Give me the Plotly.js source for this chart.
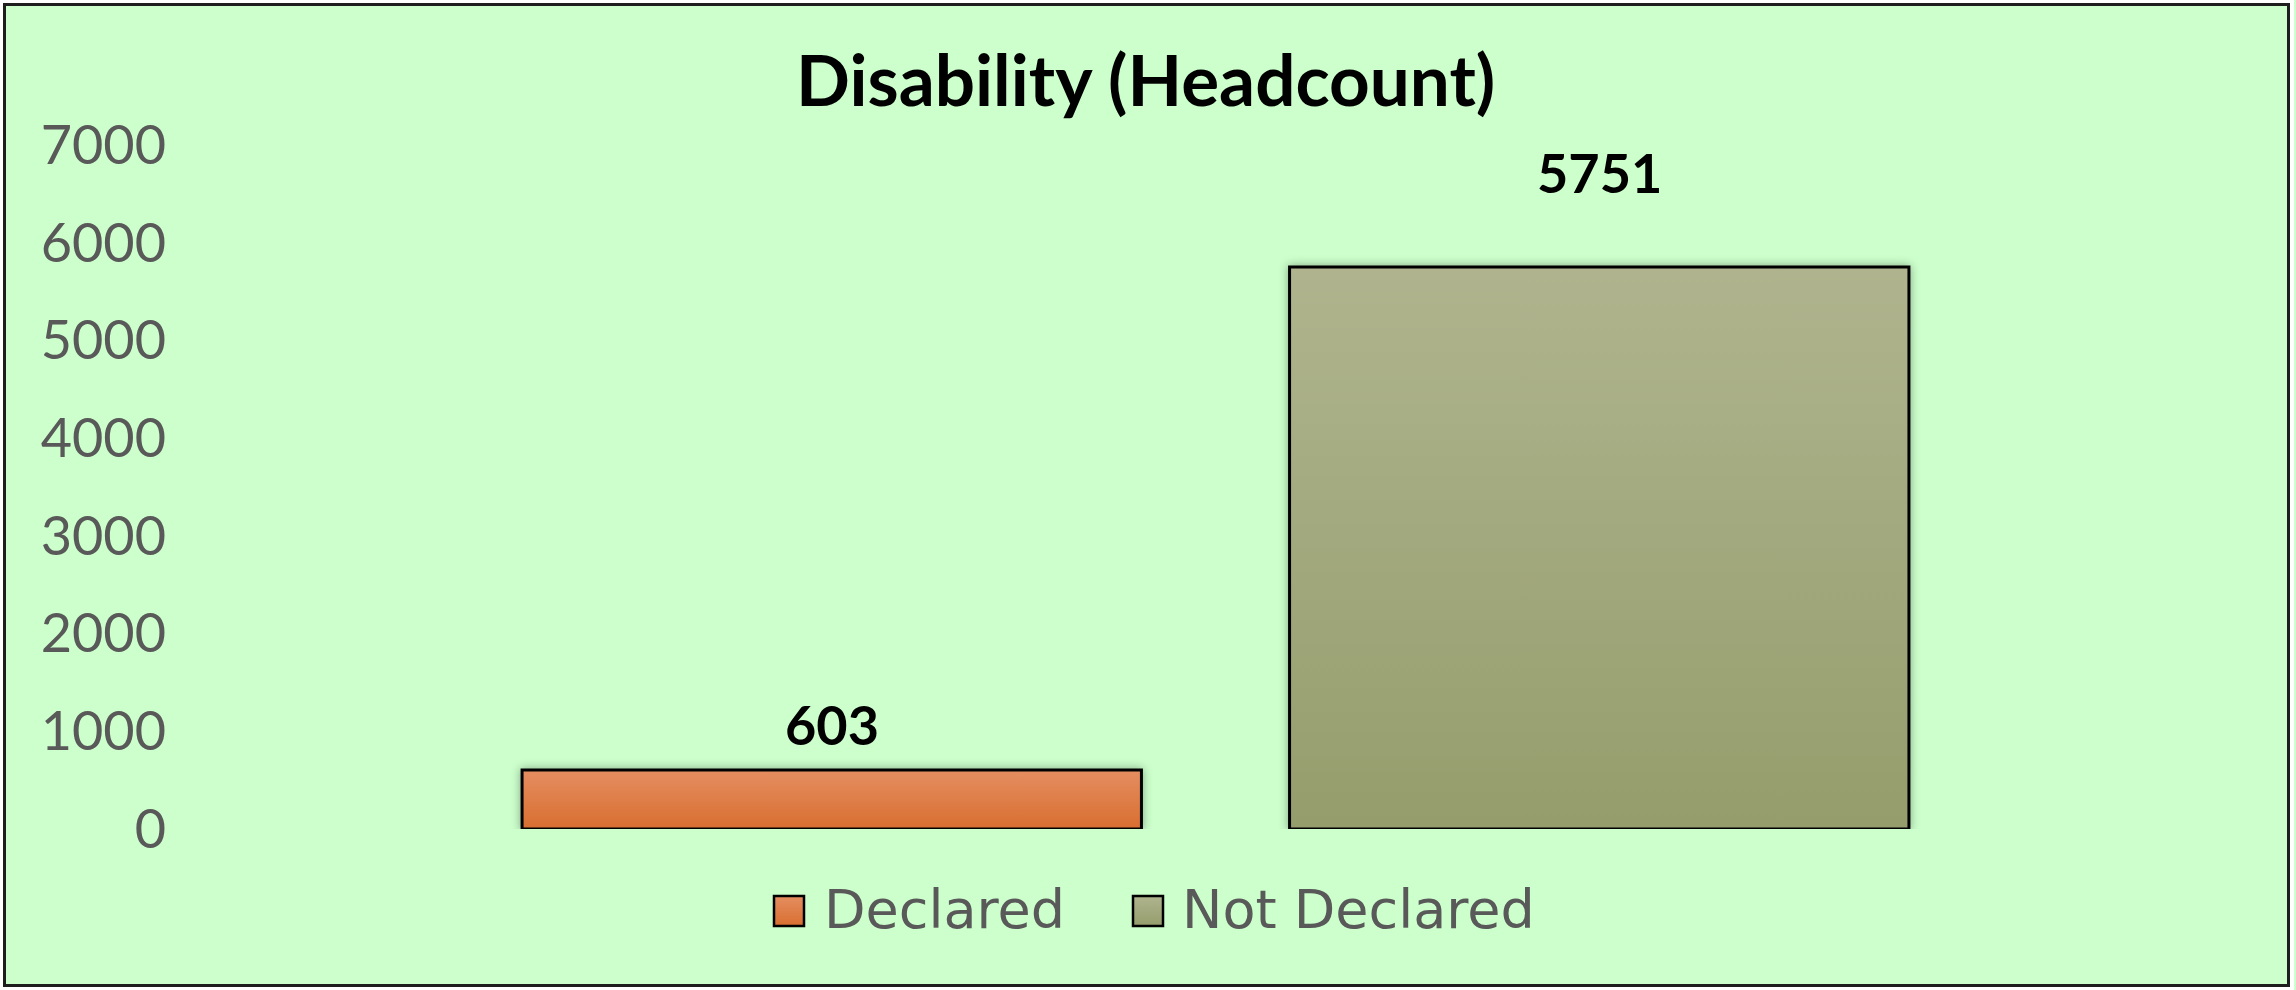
<!DOCTYPE html>
<html>
<head>
<meta charset="utf-8">
<script src="https://cdn.plot.ly/plotly-3.0.1.min.js"></script>
<style>
  html, body { margin: 0; padding: 0; background: #ffffff; }
  #wrap { position: relative; width: 2296px; height: 990px; }
  #chart { position: absolute; left: 0; top: 0; width: 2296px; height: 990px; }
  #frame { position: absolute; left: 3px; top: 3px; width: 2287px; height: 984px;
           box-sizing: border-box; border: 3px solid #1e1e1e; pointer-events: none;
           outline: 4px solid #ffffff; }
  #defs { position: absolute; width: 0; height: 0; }
</style>
</head>
<body>
<svg id="defs" aria-hidden="true">
  <defs>
    <linearGradient id="grad0" x1="0" y1="0" x2="0" y2="1">
      <stop offset="0" stop-color="#E58E61"/>
      <stop offset="1" stop-color="#D86E30"/>
    </linearGradient>
    <linearGradient id="grad1" x1="0" y1="0" x2="0" y2="1">
      <stop offset="0" stop-color="#AFB48E"/>
      <stop offset="1" stop-color="#959D6C"/>
    </linearGradient>
  </defs>
</svg>
<div id="wrap">
  <div id="chart"></div>
  <div id="frame"></div>
</div>
<script>
// ---- data ----
const categories = ["Declared", "Not Declared"];
const headcount = [603, 5751];
const barColors = ["#E17C44", "#A3AA7E"];
const yTickValues = [0, 1000, 2000, 3000, 4000, 5000, 6000, 7000];
const chartTitle = "Disability (Headcount)";

const FONT = "Lato, 'Open Sans', 'DejaVu Sans', sans-serif";
const LEGEND_FONT = "'DejaVu Sans', Lato, sans-serif";

// ---- geometry (pixels) ----
const W = 2296, H = 990;
const M = { l: 448, r: 313, t: 145, b: 161 };
const PW = W - M.l - M.r, PH = H - M.t - M.b;
const pxX = px => (px - M.l) / PW;          // page x -> paper x
const pxY = py => (H - M.b - py) / PH;      // page y -> paper y

const traces = categories.map((c, i) => ({
  type: "bar",
  name: c,
  x: [c],
  y: [headcount[i]],
  marker: { color: barColors[i], line: { color: "#000000", width: 3 } },
  hoverinfo: "x+y",
  showlegend: false
}));

const labelShift = [46, 95];
const annotations = categories.map((c, i) => ({
  x: c, y: headcount[i], xref: "x", yref: "y",
  text: String(headcount[i]),
  showarrow: false, yanchor: "middle", yshift: labelShift[i],
  font: { family: FONT, size: 54, color: "#000000", weight: 700 }
}));

// legend drawn as shapes + text (large swatches like the reference)
const legendSwatchX = [774, 1133];
const legendTextX = [822, 1180];
const legendY = 911, sw = 30;
const shapes = [];
categories.forEach((c, i) => {
  shapes.push({
    type: "rect", xref: "paper", yref: "paper", layer: "above",
    x0: pxX(legendSwatchX[i]), x1: pxX(legendSwatchX[i] + sw),
    y0: pxY(legendY - sw / 2), y1: pxY(legendY + sw / 2),
    fillcolor: barColors[i], line: { color: "#000000", width: 2.5 }
  });
  annotations.push({
    xref: "paper", yref: "paper", x: pxX(legendTextX[i]), y: pxY(legendY - 2),
    xanchor: "left", yanchor: "middle", showarrow: false, text: c,
    font: { family: LEGEND_FONT, size: 54, color: "#595959" }
  });
});

const layout = {
  width: W, height: H,
  paper_bgcolor: "#CCFFCC",
  plot_bgcolor: "#CCFFCC",
  margin: M,
  title: {
    text: "<b>" + chartTitle + "</b>",
    x: 0.499, xref: "container", xanchor: "center",
    y: 1 - 81 / 990, yref: "container", yanchor: "middle",
    font: { family: FONT, size: 71, color: "#000000" }
  },
  barmode: "group",
  bargap: 0.193,
  xaxis: {
    categoryorder: "array", categoryarray: categories,
    showticklabels: false, showgrid: false, zeroline: false, showline: false, ticks: ""
  },
  yaxis: {
    range: [0, 7000], tickvals: yTickValues, ticktext: yTickValues.map(String),
    showgrid: false, zeroline: false, showline: false, ticks: "",
    ticklabelstandoff: 281,
    tickfont: { family: FONT, size: 54, color: "#595959" }
  },
  showlegend: false,
  shapes: shapes,
  annotations: annotations
};

Plotly.newPlot("chart", traces, layout, { displayModeBar: false, staticPlot: true }).then(gd => {
  // gradient fills + soft shadow on the bars drawn by Plotly
  gd.querySelectorAll(".barlayer .trace").forEach((tr, i) => {
    tr.querySelectorAll(".point path").forEach(p => {
      p.style.fill = "url(#grad" + i + ")";
      p.style.filter = "drop-shadow(0px 0px 5px rgba(0,0,0,0.35))";
    });
  });
  // gradient on legend swatches
  gd.querySelectorAll(".layer-above .shapelayer path").forEach((p, i) => {
    p.style.fill = "url(#grad" + i + ")";
  });
});
</script>
</body>
</html>
